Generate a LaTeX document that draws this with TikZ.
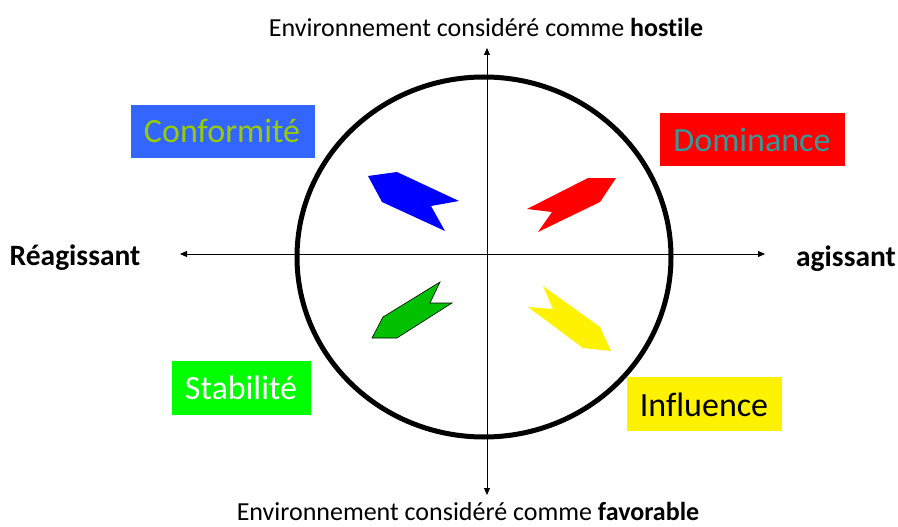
\documentclass[tikz,border=0pt]{standalone}
\usepackage{fontspec}
\setmainfont{Carlito}[Ligatures=NoCommon]
\usetikzlibrary{arrows.meta}
\definecolor{cfblue}{RGB}{51,102,255}
\definecolor{cfolive}{RGB}{153,204,0}
\definecolor{dmteal}{RGB}{51,153,153}
\definecolor{stgreen}{RGB}{0,255,0}
\definecolor{arrgreen}{RGB}{0,192,0}
\tikzset{
  axis/.style={line width=0.9pt, {Triangle[length=7pt,width=6pt]}-{Triangle[length=7pt,width=6pt]}},
  tag/.style={inner sep=0pt, anchor=center, font=\fontsize{34}{36}\selectfont},
  poletext/.style={font=\fontsize{26}{30}\selectfont},
  sidetext/.style={font=\fontsize{29.5}{32}\selectfont\bfseries},
}
\begin{document}
\begin{tikzpicture}[x=1pt,y=-1pt]
\useasboundingbox (0,0) rectangle (898,527);
% frame circle
\draw[line width=5pt] (484,257) ellipse [x radius=187, y radius=180];
% axes
\coordinate (top) at (487,48);
\coordinate (bottom) at (487,495);
\coordinate (left) at (180,254);
\coordinate (right) at (765,254);
\draw[axis] (bottom) -- (top);
\draw[axis] (left) -- (right);
% axis captions
\node[poletext] (hostile) at (486,27) {Environnement considéré comme \textbf{hostile}};
\node[poletext] (favorable) at (468,511.5) {Environnement considéré comme \textbf{favorable}};
\node[sidetext] (reag) at (75,258) {Réagissant};
\node[sidetext] (agis) at (846,259) {agissant};
% style boxes
\fill[cfblue] (131,105) rectangle (315,158);
\node[tag, text=cfolive] (conf) at (222,131) {Conformité};
\fill[red] (660,113) rectangle (845,166);
\node[tag, text=dmteal] (dom) at (752,140) {Dominance};
\fill[stgreen] (172,361) rectangle (311,415);
\node[tag, text=white] (stab) at (241,388) {Stabilité};
\fill[yellow] (627,377) rectangle (782,431);
\node[tag, text=black] (infl) at (704,405) {Influence};
% quadrant arrows
\fill[blue] (368,176) -- (397,172) -- (459,201) -- (431,206) -- (445,231) -- (382,202) -- cycle;
\fill[red] (527,209) -- (588,178) -- (616,178) -- (600,202) -- (538,232) -- (552,212) -- cycle;
\filldraw[fill=arrgreen, draw=black, line width=0.6pt] (372,338) -- (383,317) -- (440,282) -- (430,303) -- (452,303) -- (397,338) -- cycle;
\fill[yellow] (543,286) -- (600,327) -- (611,351) -- (583,348) -- (528,307) -- (553,309) -- cycle;
\end{tikzpicture}
\end{document}
